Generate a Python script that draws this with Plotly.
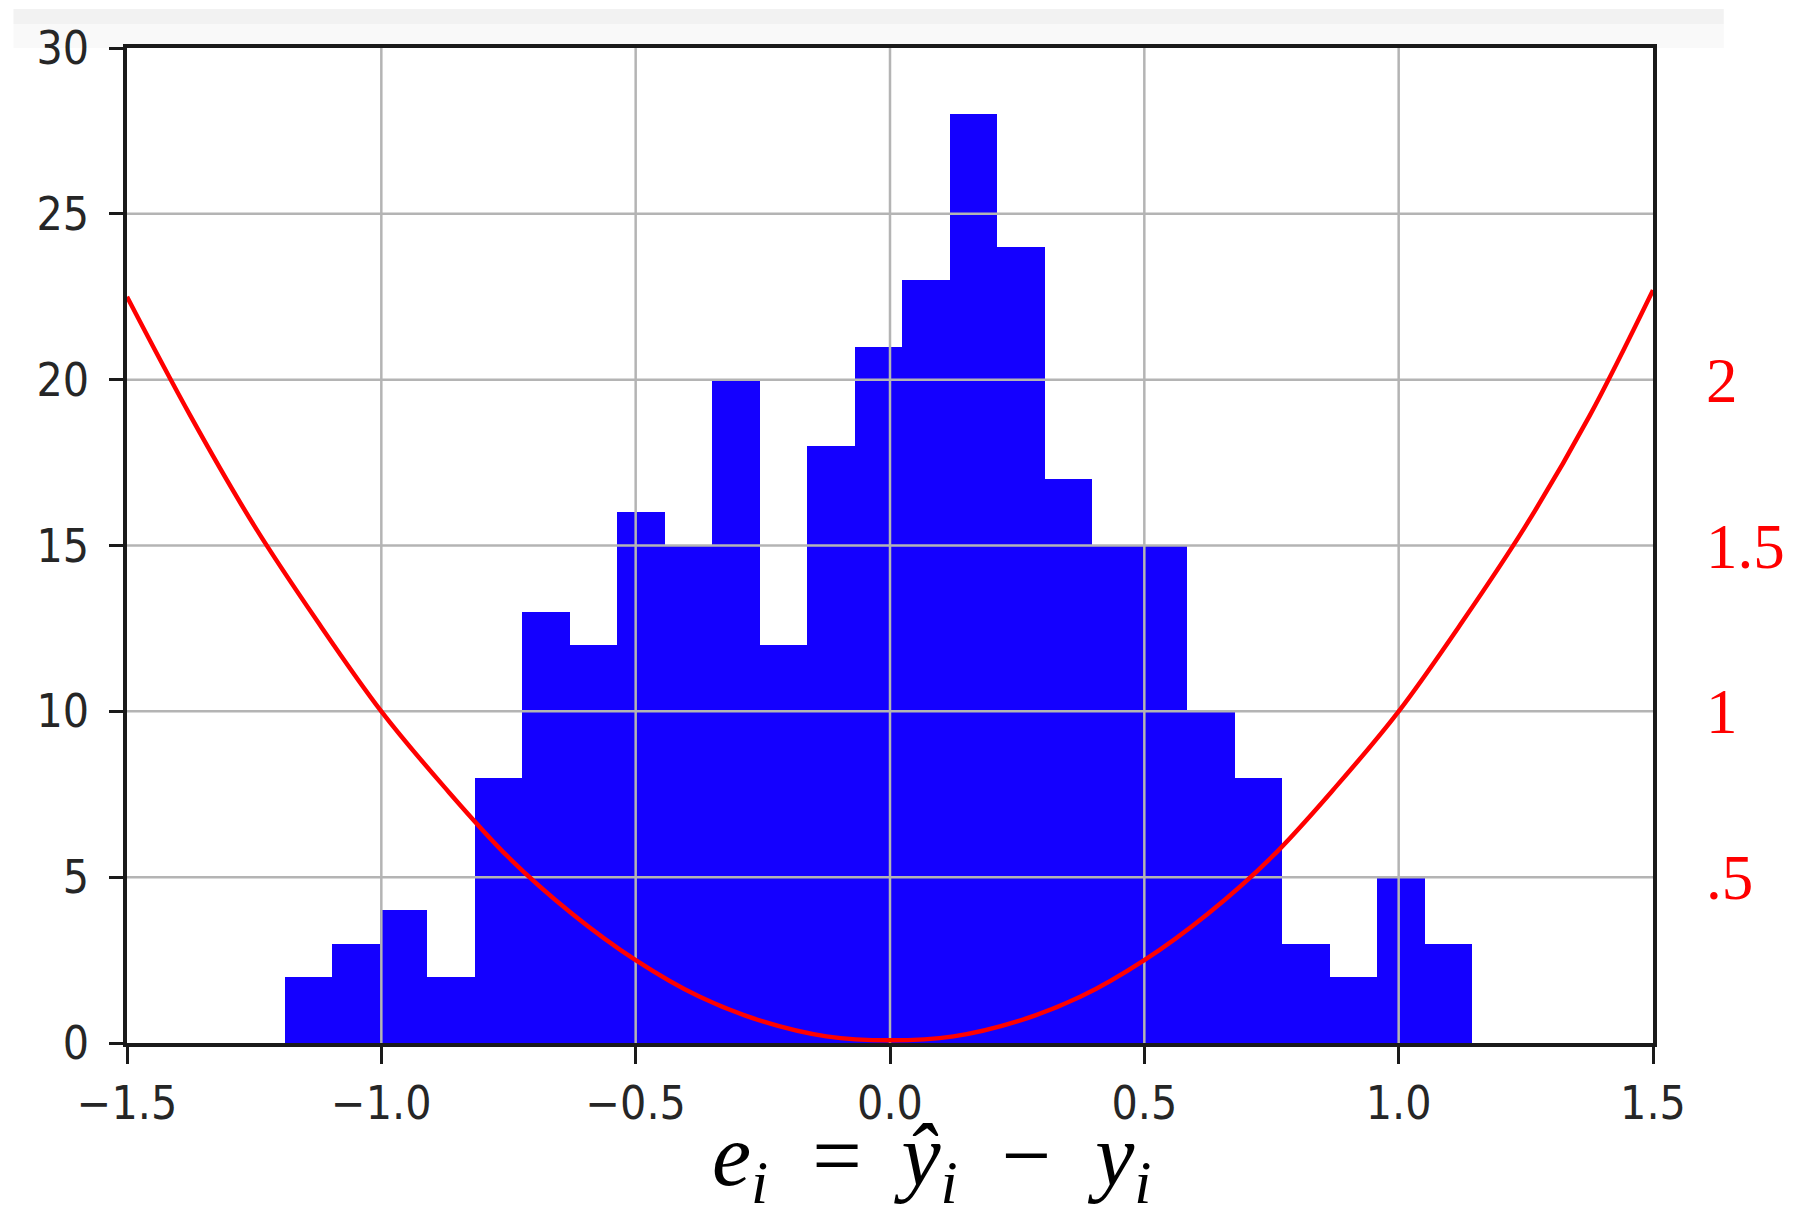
import plotly.graph_objects as go

# ---- data ----
bin_start = -1.19
bin_width = 0.0934
counts = [2, 3, 4, 2, 8, 13, 12, 16, 15, 20, 12, 18, 21, 23, 28, 24, 17, 15, 15, 10, 8, 3, 2, 5, 3]

curve_x = [-1.5, -1.375, -1.25, -1.125, -1.0, -0.875, -0.75, -0.625, -0.5, -0.375, -0.25, -0.125, 0.0,
           0.125, 0.25, 0.375, 0.5, 0.625, 0.75, 0.875, 1.0, 1.125, 1.25, 1.375, 1.5]
curve_y = [2.25, 1.89, 1.56, 1.27, 1.0, 0.77, 0.56, 0.39, 0.25, 0.14, 0.065, 0.02, 0.008,
           0.02, 0.065, 0.14, 0.25, 0.39, 0.56, 0.77, 1.0, 1.27, 1.56, 1.89, 2.27]

x_ticks = [-1.5, -1.0, -0.5, 0.0, 0.5, 1.0, 1.5]
x_tick_labels = ["\u22121.5", "\u22121.0", "\u22120.5", "0.0", "0.5", "1.0", "1.5"]
y_ticks = [0, 5, 10, 15, 20, 25, 30]
y2_ticks = [0.5, 1.0, 1.5, 2.0]
y2_tick_labels = [".5", "1", "1.5", "2"]
x_label = ("<i>e</i><sub><i>i</i></sub>  = \u2009<i>\u0177</i><sub><i>i</i></sub>  "
           "\u2212  <i>y</i><sub><i>i</i></sub>")

x_range = [-1.5, 1.5]
y_range = [0, 30]
y2_range = [0, 3]

# ---- build ----
centers = [bin_start + bin_width * (i + 0.5) for i in range(len(counts))]

fig = go.Figure()
fig.add_trace(go.Bar(x=centers, y=counts, width=bin_width,
                     marker=dict(color="#1400ff", line=dict(width=0)),
                     showlegend=False, hoverinfo="skip"))

# grid lines drawn as a trace so they sit above the bars (as in the reference)
gx, gy = [], []
for xv in x_ticks[1:-1]:
    gx += [xv, xv, None]
    gy += [y_range[0], y_range[1], None]
for yv in y_ticks[1:-1]:
    gx += [x_range[0], x_range[1], None]
    gy += [yv, yv, None]
fig.add_trace(go.Scatter(x=gx, y=gy, mode="lines",
                         line=dict(color="#b4b4b4", width=2.5),
                         showlegend=False, hoverinfo="skip"))

fig.add_trace(go.Scatter(x=curve_x, y=curve_y, mode="lines", yaxis="y2",
                         line=dict(color="#ff0000", width=4.5, shape="spline"),
                         showlegend=False, hoverinfo="skip"))

tick_font = dict(family="DejaVu Sans Condensed, DejaVu Sans", size=46, color="#262626")

fig.update_layout(
    width=1797, height=1219,
    margin=dict(l=127, r=138, t=48, b=176),
    paper_bgcolor="white", plot_bgcolor="white",
    bargap=0,
    xaxis=dict(range=x_range, tickvals=x_ticks, ticktext=x_tick_labels,
               showgrid=False, zeroline=False,
               showline=True, linecolor="#1a1a1a", linewidth=3.5, mirror=True,
               ticks="outside", ticklen=17, tickwidth=3, tickcolor="#1a1a1a",
               tickfont=tick_font, ticklabelstandoff=0),
    yaxis=dict(range=y_range, tickvals=y_ticks,
               showgrid=False, zeroline=False,
               showline=True, linecolor="#1a1a1a", linewidth=3.5, mirror=True,
               ticks="outside", ticklen=14, tickwidth=3, tickcolor="#1a1a1a",
               tickfont=tick_font, ticklabelstandoff=11),
    yaxis2=dict(range=y2_range, overlaying="y", side="right",
                tickvals=y2_ticks, ticktext=y2_tick_labels,
                showgrid=False, zeroline=False, showline=False, ticks="",
                tickfont=dict(family="Liberation Serif, Times New Roman, DejaVu Serif, serif",
                              size=63, color="#ff0000"),
                ticklabelstandoff=52),
    annotations=[dict(text=x_label, xref="paper", yref="paper", x=0.527, y=-0.176,
                      xanchor="center", yanchor="bottom", showarrow=False,
                      font=dict(family="Liberation Serif, Times New Roman, DejaVu Serif, serif",
                                size=88, color="black"))],
    shapes=[
        dict(type="rect", xref="paper", yref="paper", layer="below",
             x0=(13 - 127) / 1532, x1=(1730 - 127) / 1532,
             y0=1 + (48 - 24) / 995, y1=1 + (48 - 9) / 995,
             fillcolor="#f2f2f2", line=dict(width=0)),
        dict(type="rect", xref="paper", yref="paper", layer="below",
             x0=(13 - 127) / 1532, x1=(1730 - 127) / 1532,
             y0=1.0, y1=1 + (48 - 24) / 995,
             fillcolor="#f9f9f9", line=dict(width=0)),
    ],
)

fig.write_html("out.html", config={"displayModeBar": False},
               post_script="document.body.style.margin='0';document.body.style.overflow='hidden';")
